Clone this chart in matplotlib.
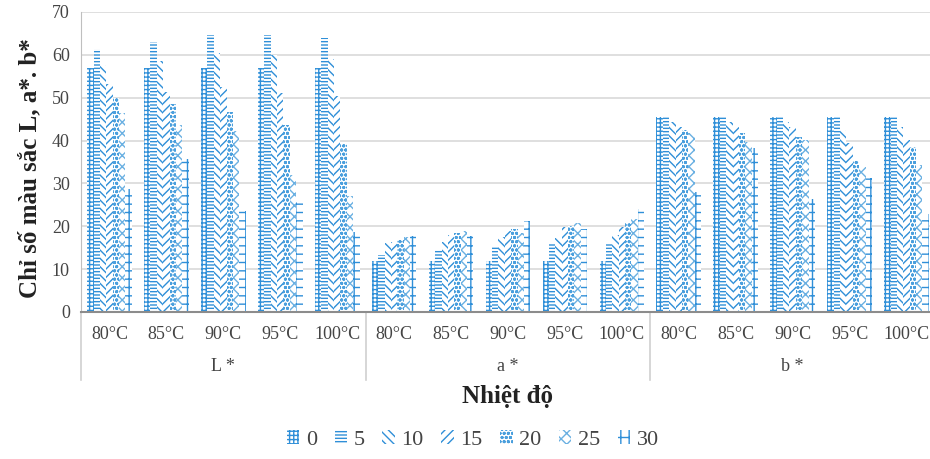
import numpy as np
import matplotlib
matplotlib.use("Agg")
import matplotlib.pyplot as plt
from matplotlib.patches import Patch

# temperatures shown on each group and the three colour indices
temps = ["80°C", "85°C", "90°C", "95°C", "100°C"]
groups = ["L *", "a *", "b *"]
series = ["0", "5", "10", "15", "20", "25", "30"]

# values per series (15 categories: L* x5, a* x5, b* x5)
s0 = [57.0, 57.0, 57.0, 57.0, 57.0, 12.0, 12.0, 12.0, 12.0, 12.0, 45.4, 45.4, 45.4, 45.4, 45.4]
s5 = [61.3, 63.1, 64.7, 64.7, 64.0, 13.3, 14.5, 15.1, 16.0, 16.2, 45.4, 45.4, 45.4, 45.4, 45.4]
s10 = [57.6, 58.6, 60.4, 60.0, 59.0, 16.2, 16.4, 17.6, 17.2, 18.0, 44.4, 44.4, 44.4, 42.5, 43.2]
s15 = [53.2, 51.4, 52.6, 51.2, 50.5, 16.4, 18.0, 19.0, 19.9, 19.9, 43.2, 43.2, 43.2, 39.4, 40.1]
s20 = [49.9, 48.5, 46.6, 43.6, 39.1, 16.8, 18.4, 19.3, 20.1, 20.7, 42.5, 41.7, 40.9, 35.5, 38.6]
s25 = [46.4, 43.6, 42.3, 32.0, 27.1, 17.4, 19.0, 18.5, 20.8, 21.6, 41.7, 39.7, 40.1, 33.9, 34.3]
s30 = [28.7, 35.7, 23.6, 25.6, 18.6, 17.7, 17.7, 21.3, 19.3, 24.0, 27.9, 38.2, 26.4, 31.2, 22.9]
all_series = [s0, s5, s10, s15, s20, s25, s30]

hatches = ["++++", "-----", "\\\\\\\\", "////", "oooo", "xxx", "++"]
colors = ["#2F8FD8", "#2F8FD8", "#2F8FD8", "#2F8FD8", "#4A9FDD", "#6AB0E2", "#2F8FD8"]

plt.rcParams["font.family"] = ["Liberation Serif", "DejaVu Serif"]
plt.rcParams["hatch.linewidth"] = 1.0

fig = plt.figure(figsize=(9.3, 4.59), dpi=100)
ax = fig.add_axes([81 / 930, 1 - 312 / 459, (935 - 81) / 930, 300 / 459])

x = np.arange(len(temps) * len(groups))
w = 0.112
for i, vals in enumerate(all_series):
    ax.bar(x + (i - 3) * w, vals, width=w, color="white", edgecolor=colors[i],
           linewidth=0, hatch=hatches[i], label=series[i])

ax.set_ylim(0, 70)
ax.set_xlim(-0.5, len(x) - 0.5)
ax.set_yticks(range(0, 71, 10))
ax.grid(axis="y", color="#d9d9d9", linewidth=1.2)
ax.set_axisbelow(True)
ax.tick_params(axis="y", length=0, labelsize=13, labelcolor="#444444", pad=8)
ax.tick_params(axis="x", length=0, labelsize=13, labelcolor="#444444", pad=10)
ax.set_xticks(x)
ax.set_xticklabels(temps * len(groups))
for s in ["top", "right"]:
    ax.spines[s].set_visible(False)
ax.spines["left"].set_color("#bfbfbf")
ax.spines["bottom"].set_color("#8c8c8c")
ax.spines["bottom"].set_linewidth(1.5)

# group labels and separators under the axis
trans = ax.get_xaxis_transform()
for g, name in enumerate(groups):
    ax.text(g * 5 + 2, -0.183, name, transform=trans, ha="center", va="center",
            fontsize=13, color="#444444")
for xs in [-0.5, 4.5, 9.5, 14.5]:
    ax.plot([xs, xs], [0, -0.225], transform=trans, color="#d0d0d0",
            linewidth=1.2, clip_on=False)

fig.text(30 / 930, 1 - 168 / 459, "Chỉ số màu sắc L, a*. b*", rotation=90,
         ha="center", va="center", fontsize=18, fontweight="bold", color="#222222")
fig.text(507 / 930, 1 - 396 / 459, "Nhiệt độ", ha="center", va="center",
         fontsize=18, fontweight="bold", color="#222222")

handles = [Patch(facecolor="white", edgecolor=c, linewidth=0, hatch=h)
           for h, c in zip(hatches, colors)]
fig.legend(handles, series, loc="center", bbox_to_anchor=(473 / 930, 1 - 440 / 459),
           ncol=7, frameon=False, fontsize=16, handlelength=0.55, handleheight=0.6,
           handletextpad=0.3, columnspacing=0.8, labelcolor="#444444")

fig.savefig("out.png", dpi=100)
